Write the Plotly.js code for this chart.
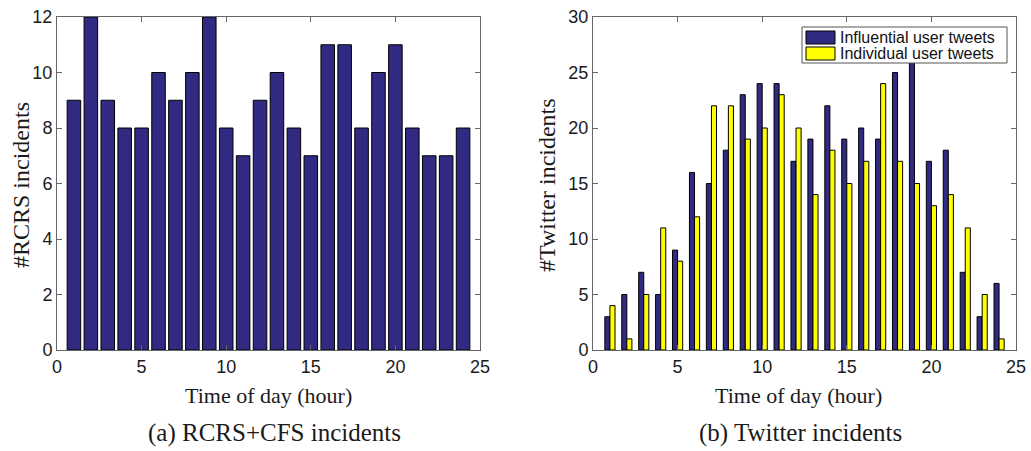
<!DOCTYPE html>
<html>
<head>
<meta charset="utf-8">
<script src="https://cdn.plot.ly/plotly-3.0.1.min.js"></script>
<style>html,body{margin:0;padding:0;background:#fff;}#chart{width:1031px;height:451px;}</style>
</head>
<body>
<div id="chart"></div>
<script>
const hours = [1,2,3,4,5,6,7,8,9,10,11,12,13,14,15,16,17,18,19,20,21,22,23,24];
const rcrsIncidents = [9,12,9,8,8,10,9,10,12,8,7,9,10,8,7,11,11,8,10,11,8,7,7,8];
const influentialTweets = [3,5,7,5,9,16,15,18,23,24,24,17,19,22,19,20,19,25,27,17,18,7,3,6];
const individualTweets = [4,1,5,11,8,12,22,22,19,20,23,20,14,18,15,17,24,17,15,13,14,11,5,1];
const seriesNames = ['Influential user tweets', 'Individual user tweets'];
const xTitle = 'Time of day (hour)';
const leftYTitle = '#RCRS incidents';
const rightYTitle = '#Twitter incidents';
const captionA = '(a) RCRS+CFS incidents';
const captionB = '(b) Twitter incidents';

const blue = '#302a82';
const yellow = '#ffff00';
const W = 1031, H = 451;
const px = v => v / W;
const py = v => 1 - v / H;

const traces = [
  {type:'bar', x:hours, y:rcrsIncidents, xaxis:'x', yaxis:'y', width:0.8,
   marker:{color:blue, line:{color:'#000', width:1}}, showlegend:false},
  {type:'bar', x:hours, y:influentialTweets, xaxis:'x2', yaxis:'y2', name:seriesNames[0],
   marker:{color:blue, line:{color:'#000', width:1}}, showlegend:false},
  {type:'bar', x:hours, y:individualTweets, xaxis:'x2', yaxis:'y2', name:seriesNames[1],
   marker:{color:yellow, line:{color:'#000', width:1}}, showlegend:false}
];

const tickFont = {family:'Liberation Sans, Arial, sans-serif', size:18, color:'#1a1a1a'};
const axisCommon = {
  showgrid:false, zeroline:false, showline:true, linecolor:'#666', linewidth:1,
  mirror:'ticks', ticks:'inside', ticklen:5, tickcolor:'#666', tickfont:tickFont,
  fixedrange:true
};
const yDom = [py(350), py(17)];
const serif = 'Liberation Serif, Times New Roman, serif';
const sans = 'Liberation Sans, Arial, sans-serif';

function ann(text, x, y, size, angle) {
  return {text:text, xref:'paper', yref:'paper', x:px(x), y:py(y), xanchor:'center', yanchor:'middle',
    showarrow:false, textangle:angle || 0, font:{family:serif, size:size, color:'#1a1a1a'}};
}

// manual legend (MATLAB style) in paper coordinates
const legBox = {x0:802, x1:1007, y0:27, y1:63};
const legendShapes = [
  {type:'rect', xref:'paper', yref:'paper', x0:px(legBox.x0), x1:px(legBox.x1), y0:py(legBox.y1), y1:py(legBox.y0),
   fillcolor:'#fff', line:{color:'#555', width:1}, layer:'above'},
  {type:'rect', xref:'paper', yref:'paper', x0:px(806), x1:px(835), y0:py(44), y1:py(31),
   fillcolor:blue, line:{color:'#000', width:1}, layer:'above'},
  {type:'rect', xref:'paper', yref:'paper', x0:px(806), x1:px(835), y0:py(60), y1:py(47),
   fillcolor:yellow, line:{color:'#000', width:1}, layer:'above'}
];
const legendAnns = [
  {text:seriesNames[0], xref:'paper', yref:'paper', x:px(838), y:py(37.5), xanchor:'left', yanchor:'middle',
   showarrow:false, font:{family:sans, size:16, color:'#111'}},
  {text:seriesNames[1], xref:'paper', yref:'paper', x:px(838), y:py(53.5), xanchor:'left', yanchor:'middle',
   showarrow:false, font:{family:sans, size:16, color:'#111'}}
];

const layout = {
  width:W, height:H,
  margin:{l:0, r:0, t:0, b:0},
  paper_bgcolor:'#fff', plot_bgcolor:'#fff',
  barmode:'group', bargap:0.4, bargroupgap:0,
  showlegend:false,
  xaxis:Object.assign({}, axisCommon, {domain:[px(57), px(480)], range:[0,25], tickvals:[0,5,10,15,20,25], anchor:'y'}),
  yaxis:Object.assign({}, axisCommon, {domain:yDom, range:[0,12], tickvals:[0,2,4,6,8,10,12], anchor:'x'}),
  xaxis2:Object.assign({}, axisCommon, {domain:[px(593), px(1016)], range:[0,25], tickvals:[0,5,10,15,20,25], anchor:'y2'}),
  yaxis2:Object.assign({}, axisCommon, {domain:yDom, range:[0,30], tickvals:[0,5,10,15,20,25,30], anchor:'x2'}),
  shapes:legendShapes,
  annotations:[
    ann(xTitle, 268, 395, 22),
    ann(xTitle, 798, 395, 22),
    ann(captionA, 274, 433, 25),
    ann(captionB, 800, 433, 25),
    ann(leftYTitle, 21, 185, 24, -90),
    ann(rightYTitle, 547, 185, 24, -90)
  ].concat(legendAnns)
};

Plotly.newPlot('chart', traces, layout, {displayModeBar:false, staticPlot:true});
</script>
</body>
</html>
